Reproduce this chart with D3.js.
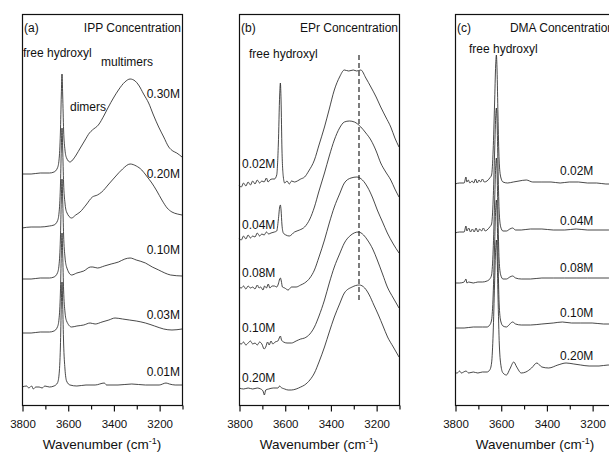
<!DOCTYPE html>
<html>
<head>
<meta charset="utf-8">
<script src="https://cdn.jsdelivr.net/npm/d3@7"></script>
<style>
  body { margin: 0; background: #fff; }
  text { font-family: "Liberation Sans", Arial, sans-serif; fill: #111; }
</style>
</head>
<body>
<div class="chart"></div>
<script>
// x axis (wavenumber, cm-1)
var xDomain = [3800, 3100]
var majorTicks = [3800, 3600, 3400, 3200]
var minorTicks = [3700, 3500, 3300, 3100]

// (a) IPP spectra, stacked absorbance (a.u.)
var ippLabels = ["0.30M", "0.20M", "0.10M", "0.03M", "0.01M"]
var ipp030 = [[3800,2.31],[3760,2.31],[3720,2.32],[3680,2.32],[3660,2.33],[3645,2.37],[3638,2.45],[3632,2.72],[3628,3.10],[3625,3.31],[3622,3.10],[3618,2.75],[3612,2.55],[3605,2.47],[3590,2.43],[3575,2.46],[3563,2.50],[3545,2.57],[3524,2.65],[3505,2.72],[3492,2.75],[3466,2.80],[3440,2.90],[3422,2.98],[3400,3.07],[3378,3.15],[3350,3.23],[3327,3.26],[3305,3.24],[3290,3.20],[3268,3.11],[3246,3.02],[3225,2.90],[3202,2.78],[3180,2.68],[3158,2.58],[3140,2.54],[3123,2.52],[3100,2.48]]
var ipp020 = [[3800,1.77],[3760,1.78],[3720,1.78],[3680,1.79],[3660,1.80],[3645,1.84],[3638,1.92],[3632,2.18],[3628,2.56],[3625,2.77],[3622,2.56],[3618,2.22],[3612,2.02],[3605,1.93],[3583,1.87],[3565,1.90],[3546,1.93],[3520,2.00],[3492,2.08],[3470,2.10],[3451,2.13],[3420,2.21],[3393,2.28],[3360,2.36],[3327,2.41],[3300,2.39],[3276,2.35],[3255,2.29],[3232,2.22],[3210,2.14],[3188,2.05],[3165,1.97],[3144,1.93],[3120,1.91],[3100,1.90]]
var ipp010 = [[3800,1.26],[3760,1.26],[3720,1.27],[3680,1.27],[3660,1.28],[3645,1.32],[3638,1.40],[3632,1.66],[3628,2.05],[3625,2.26],[3622,2.05],[3618,1.70],[3612,1.48],[3605,1.38],[3583,1.30],[3560,1.32],[3530,1.34],[3500,1.38],[3490,1.38],[3470,1.37],[3440,1.39],[3410,1.41],[3378,1.43],[3350,1.46],[3327,1.47],[3300,1.45],[3260,1.42],[3230,1.38],[3202,1.35],[3175,1.32],[3150,1.30],[3100,1.29]]
var ipp003 = [[3800,0.72],[3760,0.72],[3720,0.73],[3680,0.73],[3660,0.74],[3645,0.78],[3638,0.86],[3632,1.12],[3628,1.51],[3625,1.72],[3622,1.51],[3618,1.15],[3612,0.93],[3605,0.84],[3583,0.78],[3560,0.79],[3530,0.80],[3502,0.82],[3480,0.81],[3450,0.83],[3420,0.85],[3393,0.87],[3360,0.86],[3330,0.85],[3300,0.84],[3260,0.82],[3220,0.79],[3180,0.76],[3144,0.75],[3100,0.76]]
var ipp001 = [[3800,0.18],[3780,0.19],[3770,0.17],[3758,0.19],[3750,0.16],[3740,0.18],[3725,0.18],[3712,0.17],[3700,0.19],[3680,0.18],[3660,0.19],[3645,0.22],[3638,0.30],[3632,0.58],[3628,1.00],[3625,1.23],[3622,1.00],[3618,0.62],[3612,0.36],[3605,0.24],[3590,0.20],[3560,0.19],[3520,0.20],[3480,0.20],[3440,0.22],[3430,0.20],[3380,0.20],[3320,0.21],[3260,0.20],[3200,0.20],[3170,0.22],[3155,0.21],[3130,0.20],[3100,0.20]]

// (b) EPr spectra
var eprLabels = ["0.02M", "0.04M", "0.08M", "0.10M", "0.20M"]
var epr002 = [[3800,2.20],[3790,2.18],[3780,2.22],[3770,2.19],[3760,2.23],[3750,2.20],[3740,2.24],[3730,2.21],[3720,2.25],[3710,2.22],[3700,2.24],[3690,2.23],[3680,2.27],[3673,2.23],[3665,2.25],[3655,2.26],[3645,2.26],[3635,2.30],[3628,2.60],[3622,3.10],[3619,3.22],[3616,3.05],[3612,2.55],[3606,2.28],[3600,2.22],[3590,2.24],[3580,2.21],[3570,2.24],[3557,2.23],[3545,2.24],[3530,2.26],[3513,2.28],[3495,2.34],[3470,2.45],[3450,2.60],[3426,2.78],[3405,2.96],[3383,3.15],[3360,3.28],[3339,3.35],[3320,3.34],[3300,3.35],[3285,3.34],[3267,3.35],[3245,3.27],[3223,3.18],[3200,3.08],[3180,2.98],[3158,2.88],[3136,2.78],[3118,2.67],[3100,2.58]]
var epr004 = [[3800,1.67],[3790,1.65],[3780,1.69],[3770,1.66],[3760,1.70],[3750,1.67],[3740,1.69],[3730,1.68],[3720,1.72],[3710,1.69],[3700,1.71],[3690,1.70],[3680,1.73],[3670,1.71],[3660,1.72],[3645,1.73],[3635,1.74],[3628,1.85],[3622,1.98],[3619,2.00],[3616,1.95],[3612,1.80],[3606,1.72],[3595,1.70],[3580,1.69],[3557,1.73],[3535,1.75],[3513,1.78],[3490,1.86],[3470,1.98],[3450,2.14],[3426,2.32],[3405,2.49],[3383,2.65],[3360,2.77],[3339,2.83],[3317,2.84],[3295,2.83],[3267,2.78],[3245,2.72],[3223,2.65],[3200,2.54],[3180,2.42],[3158,2.33],[3136,2.25],[3118,2.16],[3100,2.08]]
var epr008 = [[3800,1.18],[3790,1.17],[3780,1.19],[3770,1.16],[3760,1.19],[3750,1.17],[3740,1.18],[3730,1.16],[3720,1.20],[3712,1.17],[3705,1.18],[3695,1.15],[3688,1.19],[3680,1.17],[3672,1.21],[3665,1.17],[3655,1.19],[3645,1.19],[3635,1.18],[3628,1.21],[3622,1.26],[3619,1.27],[3615,1.24],[3610,1.18],[3600,1.17],[3585,1.15],[3570,1.18],[3550,1.18],[3530,1.20],[3513,1.22],[3490,1.27],[3470,1.35],[3450,1.48],[3426,1.65],[3405,1.82],[3383,1.98],[3360,2.11],[3339,2.22],[3310,2.27],[3284,2.28],[3260,2.25],[3238,2.18],[3215,2.07],[3195,1.95],[3172,1.83],[3151,1.72],[3125,1.61],[3100,1.52]]
var epr010 = [[3800,0.62],[3790,0.61],[3780,0.63],[3770,0.60],[3760,0.62],[3750,0.64],[3740,0.61],[3730,0.62],[3720,0.60],[3710,0.63],[3700,0.61],[3690,0.56],[3683,0.58],[3675,0.63],[3668,0.60],[3660,0.64],[3652,0.61],[3642,0.63],[3630,0.64],[3622,0.68],[3619,0.69],[3614,0.65],[3605,0.63],[3590,0.62],[3570,0.62],[3550,0.64],[3530,0.66],[3513,0.67],[3490,0.71],[3470,0.78],[3450,0.89],[3426,1.05],[3405,1.22],[3383,1.38],[3360,1.51],[3339,1.62],[3310,1.70],[3278,1.73],[3255,1.70],[3238,1.65],[3215,1.56],[3195,1.45],[3172,1.31],[3151,1.18],[3125,1.07],[3100,0.97]]
var epr020 = [[3800,0.17],[3780,0.16],[3760,0.17],[3740,0.16],[3720,0.17],[3705,0.16],[3695,0.14],[3689,0.10],[3683,0.15],[3670,0.16],[3650,0.17],[3630,0.17],[3622,0.19],[3618,0.18],[3600,0.16],[3585,0.15],[3571,0.15],[3550,0.16],[3530,0.18],[3513,0.20],[3490,0.25],[3470,0.32],[3450,0.43],[3426,0.58],[3405,0.73],[3383,0.88],[3360,1.01],[3339,1.12],[3305,1.18],[3274,1.20],[3250,1.17],[3230,1.10],[3210,1.00],[3190,0.90],[3170,0.79],[3150,0.68],[3125,0.58],[3100,0.48]]
// dashed marker of the H-bonded band maximum
var eprMarker = [[3275, 3.50], [3275, 1.02]]

// (c) DMA spectra
var dmaLabels = ["0.02M", "0.04M", "0.08M", "0.10M", "0.20M"]
var dma002 = [[3800,2.21],[3780,2.22],[3760,2.22],[3752,2.28],[3748,2.23],[3742,2.25],[3735,2.22],[3725,2.24],[3718,2.22],[3710,2.26],[3703,2.22],[3695,2.25],[3688,2.23],[3680,2.26],[3672,2.23],[3660,2.24],[3648,2.27],[3640,2.30],[3633,2.55],[3627,3.00],[3622,3.40],[3619,3.50],[3616,3.35],[3612,2.90],[3607,2.45],[3600,2.28],[3590,2.23],[3570,2.22],[3545,2.23],[3520,2.24],[3488,2.25],[3460,2.23],[3420,2.23],[3380,2.23],[3340,2.22],[3300,2.23],[3260,2.23],[3220,2.22],[3180,2.22],[3140,2.21],[3100,2.21]]
var dma004 = [[3800,1.72],[3780,1.73],[3760,1.73],[3752,1.79],[3748,1.74],[3740,1.77],[3732,1.73],[3724,1.76],[3716,1.73],[3708,1.77],[3700,1.73],[3692,1.76],[3684,1.74],[3676,1.77],[3668,1.74],[3660,1.75],[3648,1.78],[3640,1.81],[3633,2.05],[3627,2.50],[3622,2.88],[3619,2.97],[3616,2.84],[3612,2.40],[3607,1.95],[3600,1.78],[3590,1.74],[3575,1.74],[3560,1.76],[3548,1.77],[3535,1.75],[3510,1.75],[3470,1.76],[3420,1.76],[3370,1.75],[3320,1.75],[3270,1.76],[3220,1.75],[3170,1.75],[3130,1.75],[3100,1.75]]
var dma008 = [[3800,1.22],[3780,1.22],[3760,1.23],[3752,1.26],[3748,1.22],[3740,1.23],[3720,1.22],[3700,1.23],[3680,1.23],[3660,1.24],[3648,1.26],[3640,1.30],[3633,1.55],[3627,2.00],[3622,2.38],[3619,2.47],[3616,2.34],[3612,1.90],[3607,1.45],[3600,1.30],[3590,1.26],[3575,1.26],[3560,1.28],[3548,1.29],[3535,1.27],[3510,1.26],[3470,1.26],[3420,1.27],[3370,1.27],[3320,1.27],[3270,1.27],[3220,1.27],[3170,1.27],[3130,1.27],[3100,1.27]]
var dma010 = [[3800,0.77],[3760,0.77],[3720,0.78],[3680,0.78],[3660,0.78],[3648,0.80],[3640,0.85],[3633,1.10],[3627,1.58],[3622,1.96],[3619,2.05],[3616,1.92],[3612,1.48],[3607,1.02],[3600,0.84],[3590,0.79],[3575,0.78],[3560,0.81],[3548,0.83],[3535,0.81],[3510,0.80],[3470,0.80],[3420,0.81],[3370,0.82],[3330,0.83],[3290,0.82],[3250,0.82],[3200,0.82],[3150,0.81],[3100,0.81]]
var dma020 = [[3800,0.32],[3790,0.32],[3780,0.34],[3772,0.32],[3762,0.33],[3752,0.34],[3740,0.32],[3720,0.33],[3700,0.32],[3680,0.33],[3660,0.33],[3648,0.35],[3640,0.42],[3633,0.72],[3627,1.20],[3622,1.56],[3619,1.65],[3616,1.52],[3612,1.10],[3606,0.60],[3598,0.38],[3590,0.32],[3575,0.30],[3560,0.36],[3543,0.43],[3530,0.38],[3510,0.32],[3490,0.33],[3465,0.37],[3442,0.42],[3420,0.38],[3390,0.37],[3350,0.40],[3314,0.42],[3280,0.41],[3250,0.40],[3213,0.39],[3170,0.39],[3130,0.40],[3100,0.39]]

var svgWidth = 609
var svgHeight = 453
var plotTop = 14
var plotBottom = 405
var plotWidth = 160

var svg = d3.select('div.chart')
    .append('svg')
    .attr('width', svgWidth)
    .attr('height', svgHeight)

// same absorbance scale for all three panels
var y = d3.scaleLinear()
    .domain([0, 3.91])
    .range([plotBottom, plotTop])

var panels = [
    { left: 22, tag: "(a)", title: "IPP Concentration", traces: [ipp030, ipp020, ipp010, ipp003, ipp001],
      labels: ippLabels, labelAnchor: "end", labelX: 180, labelY: [98, 178, 254, 319, 376],
      notes: [["free hydroxyl", 23, 57], ["multimers", 101, 66], ["dimers", 70, 111]] },
    { left: 239, tag: "(b)", title: "EPr Concentration", traces: [epr002, epr004, epr008, epr010, epr020],
      labels: eprLabels, labelAnchor: "start", labelX: 242, labelY: [168, 229, 277, 332, 382],
      notes: [["free hydroxyl", 249, 58]], marker: eprMarker },
    { left: 455, tag: "(c)", title: "DMA Concentration", traces: [dma002, dma004, dma008, dma010, dma020],
      labels: dmaLabels, labelAnchor: "start", labelX: 560, labelY: [175, 225, 272, 317, 360],
      notes: [["free hydroxyl", 469, 53]] }
]

panels.forEach(function (p) {
    var x = d3.scaleLinear()
        .domain(xDomain)
        .range([p.left, p.left + plotWidth])

    var line = d3.line()
        .x(function (d) { return x(d[0]); })
        .y(function (d) { return y(d[1]); })
        .curve(d3.curveMonotoneX)

    var g = svg.append('g')

    g.selectAll('path.trace')
        .data(p.traces)
        .enter()
        .append('path')
        .attr('class', 'trace')
        .attr('d', line)
        .style('fill', 'none')
        .style('stroke', '#1a1a1a')
        .style('stroke-width', 0.8)

    if (p.marker) {
        g.append('path')
            .attr('d', d3.line().x(function (d) { return x(d[0]); }).y(function (d) { return y(d[1]); })(p.marker))
            .style('stroke', '#111')
            .style('stroke-width', 1.1)
            .style('stroke-dasharray', '5,3')
    }

    // frame
    g.append('rect')
        .attr('x', p.left + 0.5)
        .attr('y', plotTop + 0.5)
        .attr('width', plotWidth)
        .attr('height', plotBottom - plotTop)
        .style('fill', 'none')
        .style('stroke', '#111')
        .style('stroke-width', 1.2)

    var majorAxis = d3.axisBottom(x).tickValues(majorTicks).tickSize(6).tickPadding(8).tickFormat(d3.format('d'))
    var minorAxis = d3.axisBottom(x).tickValues(minorTicks).tickSize(4).tickFormat('')

    var ax = g.append('g')
        .attr('transform', 'translate(0.5,' + (plotBottom + 0.5) + ')')
        .call(majorAxis)
    ax.select('.domain').remove()
    ax.selectAll('line').style('stroke', '#111').style('stroke-width', 1.2)
    ax.selectAll('text')
        .style('font-family', '"Liberation Sans", Arial, sans-serif')
        .style('font-size', '11.5px')
        .style('fill', '#111')

    var mx = g.append('g')
        .attr('transform', 'translate(0.5,' + (plotBottom + 0.5) + ')')
        .call(minorAxis)
    mx.select('.domain').remove()
    mx.selectAll('line').style('stroke', '#111').style('stroke-width', 1.2)

    // axis title
    var t = g.append('text')
        .attr('x', p.left + plotWidth / 2)
        .attr('y', 449)
        .attr('text-anchor', 'middle')
        .style('font-size', '13.5px')
    t.append('tspan').text('Wavenumber (cm')
    t.append('tspan').attr('dy', -5).style('font-size', '9px').text('-1')
    t.append('tspan').attr('dy', 5).text(')')

    g.append('text')
        .attr('x', p.left + 2)
        .attr('y', 32)
        .style('font-size', '12px')
        .text(p.tag)

    g.append('text')
        .attr('x', p.left + plotWidth - 1)
        .attr('y', 32)
        .attr('text-anchor', 'end')
        .style('font-size', '12px')
        .text(p.title)

    p.notes.forEach(function (n) {
        g.append('text')
            .attr('x', n[1])
            .attr('y', n[2])
            .style('font-size', '12px')
            .text(n[0])
    })

    g.selectAll('text.conc')
        .data(p.labels)
        .enter()
        .append('text')
        .attr('class', 'conc')
        .attr('x', p.labelX)
        .attr('y', function (d, i) { return p.labelY[i]; })
        .attr('text-anchor', p.labelAnchor)
        .style('font-size', '12px')
        .text(function (d) { return d; })
})
</script>
</body>
</html>
